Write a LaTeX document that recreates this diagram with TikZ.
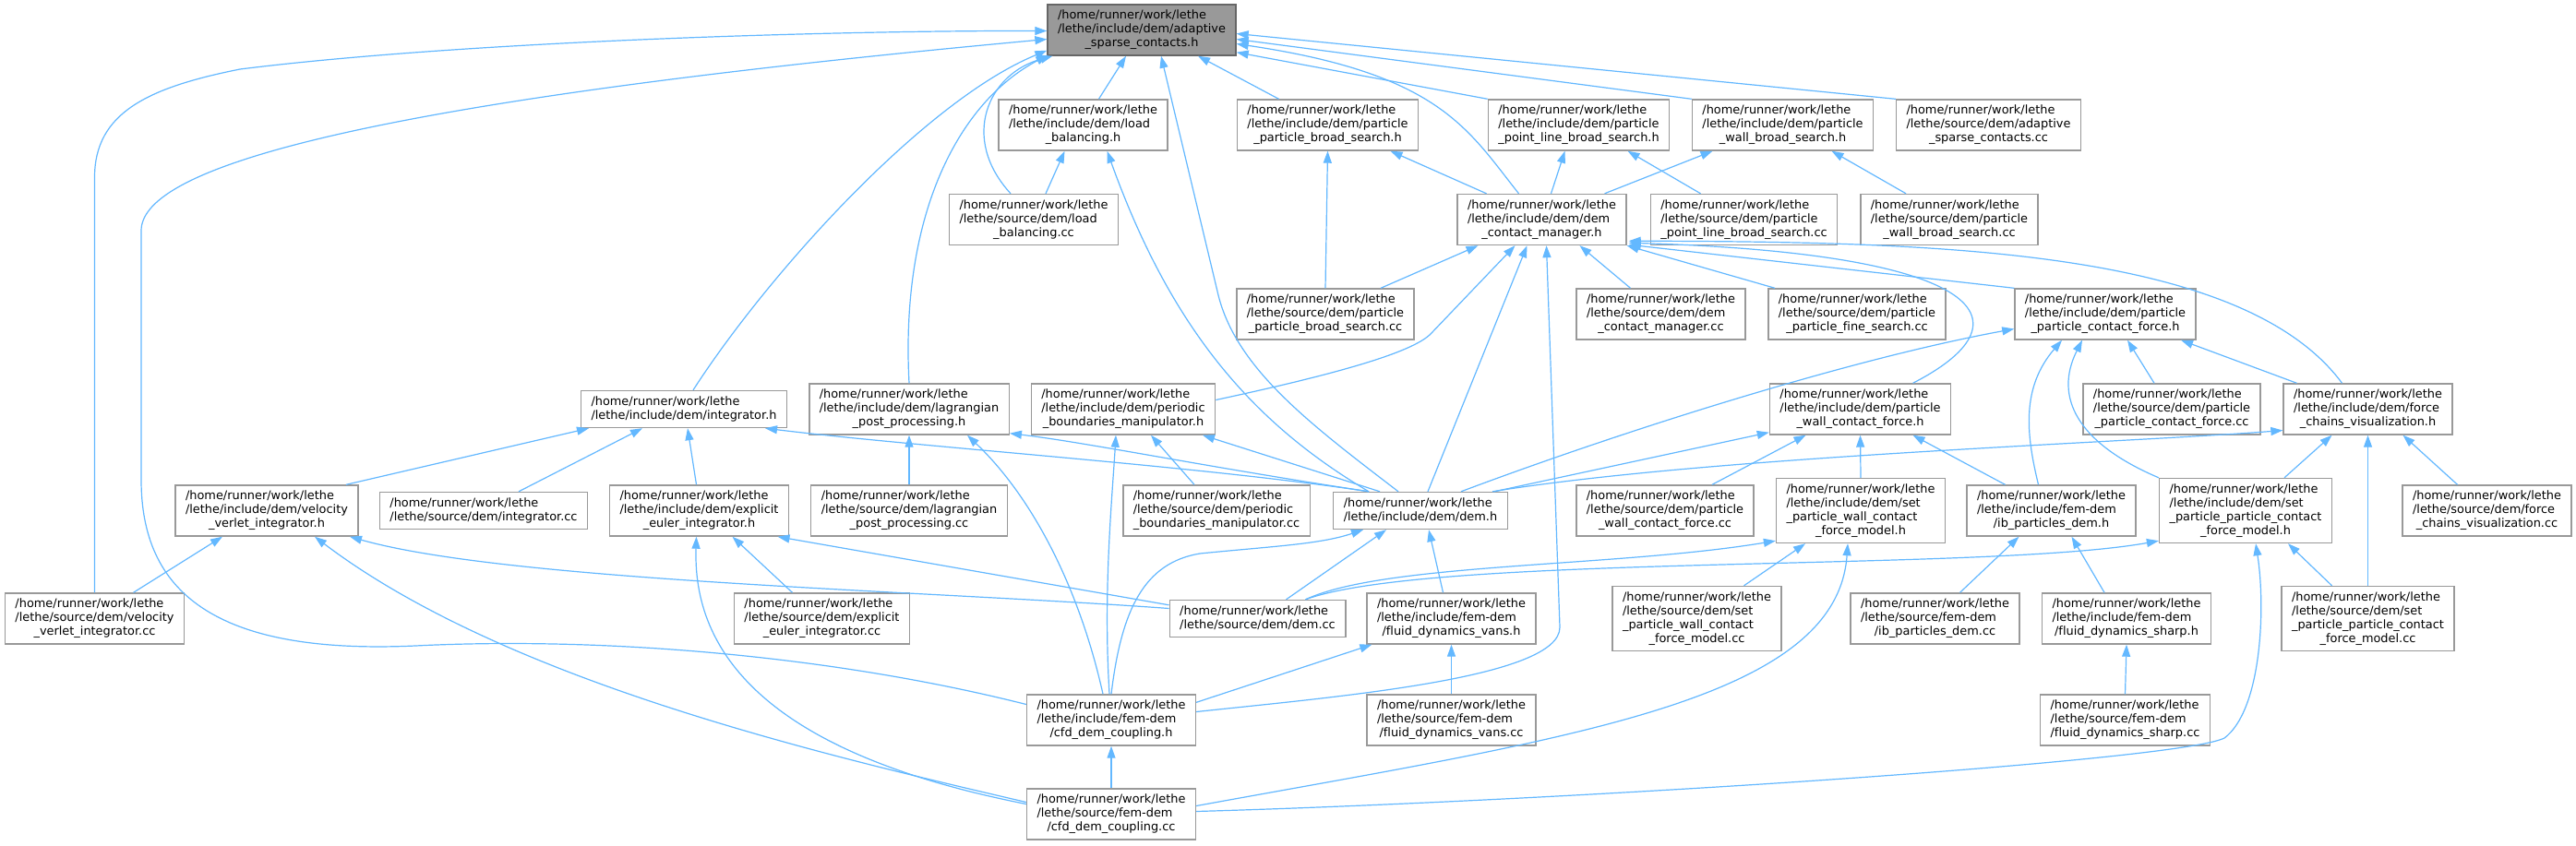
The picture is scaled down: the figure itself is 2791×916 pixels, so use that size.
\documentclass[tikz,border=0pt]{standalone}
\usepackage{fontspec}
\setmainfont[Ligatures=NoCommon]{DejaVu Sans}
\usetikzlibrary{arrows.meta}
\definecolor{edgeblue}{HTML}{63B8FF}
\definecolor{boxgray}{HTML}{999999}
\definecolor{rootgray}{HTML}{666666}
\newcommand{\fpath}[2]{\begin{tabular}{@{}l@{}}#1\\\multicolumn{1}{@{}c@{}}{#2}\end{tabular}}

\begin{document}
\begin{tikzpicture}[x=1pt,y=-1pt,
    hfile/.style={draw=boxgray,line width=1.4pt,fill=white,inner xsep=11pt,inner ysep=5pt,
        font=\fontsize{12.9}{15}\selectfont},
    root/.style={hfile,draw=rootgray,fill=boxgray},
    inc/.style={draw=edgeblue,line width=1.2pt,-{Triangle[length=13pt,width=9pt]}}]
    \fill[white] (0,0) rectangle (2791,916);
    \node[root] (A) at (1237,32.5) {\fpath{/home/runner/work/lethe\\/lethe/include/dem/adaptive}{\_sparse\_contacts.h}};
    \node[hfile] (LBh) at (1173.5,135.5) {\fpath{/home/runner/work/lethe\\/lethe/include/dem/load}{\_balancing.h}};
    \node[hfile] (PPBSh) at (1438.5,135.5) {\fpath{/home/runner/work/lethe\\/lethe/include/dem/particle}{\_particle\_broad\_search.h}};
    \node[hfile] (PPLBSh) at (1710.5,135.5) {\fpath{/home/runner/work/lethe\\/lethe/include/dem/particle}{\_point\_line\_broad\_search.h}};
    \node[hfile] (PWBSh) at (1931.5,135.5) {\fpath{/home/runner/work/lethe\\/lethe/include/dem/particle}{\_wall\_broad\_search.h}};
    \node[hfile] (ASCcc) at (2154.5,135.5) {\fpath{/home/runner/work/lethe\\/lethe/source/dem/adaptive}{\_sparse\_contacts.cc}};
    \node[hfile] (LBcc) at (1120,238) {\fpath{/home/runner/work/lethe\\/lethe/source/dem/load}{\_balancing.cc}};
    \node[hfile] (DCMh) at (1670.5,238) {\fpath{/home/runner/work/lethe\\/lethe/include/dem/dem}{\_contact\_manager.h}};
    \node[hfile] (PPLBScc) at (1889.5,238) {\fpath{/home/runner/work/lethe\\/lethe/source/dem/particle}{\_point\_line\_broad\_search.cc}};
    \node[hfile] (PWBScc) at (2112,238) {\fpath{/home/runner/work/lethe\\/lethe/source/dem/particle}{\_wall\_broad\_search.cc}};
    \node[hfile] (PPBScc) at (1436,340.5) {\fpath{/home/runner/work/lethe\\/lethe/source/dem/particle}{\_particle\_broad\_search.cc}};
    \node[hfile] (DCMcc) at (1799.5,340.5) {\fpath{/home/runner/work/lethe\\/lethe/source/dem/dem}{\_contact\_manager.cc}};
    \node[hfile] (PPFScc) at (2012,340.5) {\fpath{/home/runner/work/lethe\\/lethe/source/dem/particle}{\_particle\_fine\_search.cc}};
    \node[hfile] (PPCFh) at (2281,340.5) {\fpath{/home/runner/work/lethe\\/lethe/include/dem/particle}{\_particle\_contact\_force.h}};
    \node[hfile] (INTh) at (741,443.5) {\fpath{/home/runner/work/lethe}{/lethe/include/dem/integrator.h}};
    \node[hfile] (LPPh) at (985,443.5) {\fpath{/home/runner/work/lethe\\/lethe/include/dem/lagrangian}{\_post\_processing.h}};
    \node[hfile] (PBMh) at (1217,443.5) {\fpath{/home/runner/work/lethe\\/lethe/include/dem/periodic}{\_boundaries\_manipulator.h}};
    \node[hfile] (PWCFh) at (2015.5,443.5) {\fpath{/home/runner/work/lethe\\/lethe/include/dem/particle}{\_wall\_contact\_force.h}};
    \node[hfile] (PPCFcc) at (2353,443.5) {\fpath{/home/runner/work/lethe\\/lethe/source/dem/particle}{\_particle\_contact\_force.cc}};
    \node[hfile] (FCVh) at (2565.5,443.5) {\fpath{/home/runner/work/lethe\\/lethe/include/dem/force}{\_chains\_visualization.h}};
    \node[hfile] (VVIh) at (289,553.5) {\fpath{/home/runner/work/lethe\\/lethe/include/dem/velocity}{\_verlet\_integrator.h}};
    \node[hfile] (INTcc) at (524,553.5) {\fpath{/home/runner/work/lethe}{/lethe/source/dem/integrator.cc}};
    \node[hfile] (EEIh) at (757.5,553.5) {\fpath{/home/runner/work/lethe\\/lethe/include/dem/explicit}{\_euler\_integrator.h}};
    \node[hfile] (LPPcc) at (985,553.5) {\fpath{/home/runner/work/lethe\\/lethe/source/dem/lagrangian}{\_post\_processing.cc}};
    \node[hfile] (PBMcc) at (1318,553.5) {\fpath{/home/runner/work/lethe\\/lethe/source/dem/periodic}{\_boundaries\_manipulator.cc}};
    \node[hfile] (DEMh) at (1539,553.5) {\fpath{/home/runner/work/lethe}{/lethe/include/dem/dem.h}};
    \node[hfile] (PWCFcc) at (1804,553.5) {\fpath{/home/runner/work/lethe\\/lethe/source/dem/particle}{\_wall\_contact\_force.cc}};
    \node[hfile] (SPWCFMh) at (2016,553.5) {\fpath{/home/runner/work/lethe\\/lethe/include/dem/set\\\_particle\_wall\_contact}{\_force\_model.h}};
    \node[hfile] (IBPDh) at (2222.5,553.5) {\fpath{/home/runner/work/lethe\\/lethe/include/fem-dem}{/ib\_particles\_dem.h}};
    \node[hfile] (SPPCFMh) at (2433,553.5) {\fpath{/home/runner/work/lethe\\/lethe/include/dem/set\\\_particle\_particle\_contact}{\_force\_model.h}};
    \node[hfile] (FCVcc) at (2694.5,553.5) {\fpath{/home/runner/work/lethe\\/lethe/source/dem/force}{\_chains\_visualization.cc}};
    \node[hfile] (VVIcc) at (102.5,670.5) {\fpath{/home/runner/work/lethe\\/lethe/source/dem/velocity}{\_verlet\_integrator.cc}};
    \node[hfile] (EEIcc) at (890.5,670.5) {\fpath{/home/runner/work/lethe\\/lethe/source/dem/explicit}{\_euler\_integrator.cc}};
    \node[hfile] (DEMcc) at (1362.5,670.5) {\fpath{/home/runner/work/lethe}{/lethe/source/dem/dem.cc}};
    \node[hfile] (FDVh) at (1572.5,670.5) {\fpath{/home/runner/work/lethe\\/lethe/include/fem-dem}{/fluid\_dynamics\_vans.h}};
    \node[hfile] (SPWCFMcc) at (1838.5,670.5) {\fpath{/home/runner/work/lethe\\/lethe/source/dem/set\\\_particle\_wall\_contact}{\_force\_model.cc}};
    \node[hfile] (IBPDcc) at (2096.5,670.5) {\fpath{/home/runner/work/lethe\\/lethe/source/fem-dem}{/ib\_particles\_dem.cc}};
    \node[hfile] (FDSh) at (2304,670.5) {\fpath{/home/runner/work/lethe\\/lethe/include/fem-dem}{/fluid\_dynamics\_sharp.h}};
    \node[hfile] (SPPCFMcc) at (2565.5,670.5) {\fpath{/home/runner/work/lethe\\/lethe/source/dem/set\\\_particle\_particle\_contact}{\_force\_model.cc}};
    \node[hfile] (CDCh) at (1204,780.5) {\fpath{/home/runner/work/lethe\\/lethe/include/fem-dem}{/cfd\_dem\_coupling.h}};
    \node[hfile] (FDVcc) at (1572.5,780.5) {\fpath{/home/runner/work/lethe\\/lethe/source/fem-dem}{/fluid\_dynamics\_vans.cc}};
    \node[hfile] (FDScc) at (2302.5,780.5) {\fpath{/home/runner/work/lethe\\/lethe/source/fem-dem}{/fluid\_dynamics\_sharp.cc}};
    \node[hfile] (CDCcc) at (1204,882.5) {\fpath{/home/runner/work/lethe\\/lethe/source/fem-dem}{/cfd\_dem\_coupling.cc}};

    \draw[inc] (VVIcc.north) -- ++(0,-450) .. controls +(0,-70) and (160,95) .. (260,75) .. controls (500,45) and (900,33) .. ([yshift=-1pt]A.west);
    \draw[inc] ([yshift=17pt]CDCh.west) .. controls (900,710) and (650,690) .. (450,700) .. controls (230,710) and (153,640) .. (153,520) -- (153,250) .. controls (153,180) and (400,110) .. ([yshift=-10pt]A.west);
    \draw[inc] ([xshift=10pt]INTh.north) .. controls (830,300) and (1000,110) .. ([yshift=6pt]A.south west);
    \draw[inc] (LPPh.north) .. controls (975,230) and (1040,110) .. ([xshift=1pt,yshift=1pt]A.south west);
    \draw[inc] ([xshift=-25pt]LBcc.north) .. controls (1040,150) and (1070,80) .. ([xshift=6pt]A.south west);
    \draw[inc] ([xshift=17pt]LBh.north) -- ([xshift=-17pt]A.south);
    \draw[inc] ([xshift=-24pt]DEMh.north) .. controls (1420,460) and (1340,400) .. (1320,320) -- ([xshift=21pt]A.south);
    \draw[inc] ([xshift=-53pt]PPBSh.north) -- ([xshift=61pt]A.south);
    \draw[inc] ([xshift=-25pt]DCMh.north) .. controls (1590,140) and (1560,80) .. ([yshift=-15pt]A.east);
    \draw[inc] (PPLBSh.north west) -- ([yshift=4pt]A.south east);
    \draw[inc] (PWBSh.north west) -- ([yshift=-10pt]A.east);
    \draw[inc] (ASCcc.north west) -- ([yshift=-4pt]A.east);

    \draw[inc] ([xshift=13pt]LBcc.north) -- ([xshift=-20pt]LBh.south);
    \draw[inc] ([xshift=-56pt]DEMh.north) .. controls (1360,460) and (1270,360) .. ([xshift=26pt]LBh.south);
    \draw[inc] (PPBScc.north) -- (PPBSh.south);
    \draw[inc] ([xshift=-60pt]DCMh.north) -- ([xshift=68pt]PPBSh.south);
    \draw[inc] ([xshift=10pt]DCMh.north) -- ([xshift=-15pt]PPLBSh.south);
    \draw[inc] ([xshift=-47pt]PPLBScc.north) -- ([xshift=53pt]PPLBSh.south);
    \draw[inc] ([xshift=68pt]DCMh.north) -- ([xshift=-76pt]PWBSh.south);
    \draw[inc] ([xshift=-47pt]PWBScc.north) -- ([xshift=53pt]PWBSh.south);

    \draw[inc] ([xshift=60pt]PPBScc.north) -- ([xshift=-69pt]DCMh.south);
    \draw[inc] ([yshift=10pt]PBMh.east) .. controls (1450,405) and (1530,382) .. (1550,362) -- ([xshift=-29pt]DCMh.south);
    \draw[inc] ([xshift=8pt]DEMh.north) -- ([xshift=-16pt]DCMh.south);
    \draw[inc] ([yshift=9pt]CDCh.east) .. controls (1450,755) and (1690,735) .. (1690,680) -- ([xshift=5pt]DCMh.south);
    \draw[inc] ([xshift=-33pt]DCMcc.north) -- ([xshift=41pt]DCMh.south);
    \draw[inc] ([xshift=-89pt]PPFScc.north) -- (DCMh.south east);
    \draw[inc] (PPCFh.north west) -- ([xshift=2pt,yshift=1pt]DCMh.south east);
    \draw[inc] ([xshift=57pt]PWCFh.north) .. controls (2200,350) and (2160,275) .. ([xshift=2pt,yshift=3pt]DCMh.south east);
    \draw[inc] ([xshift=-28pt]FCVh.north) .. controls (2430,270) and (2100,262) .. ([xshift=2pt,yshift=5pt]DCMh.south east);

    \draw[inc] ([xshift=44pt]DEMh.north) .. controls (1750,470) and (2000,390) .. ([yshift=-16pt]PPCFh.west);
    \draw[inc] ([xshift=-14pt]IBPDh.north) .. controls (2195,470) and (2190,420) .. ([xshift=-47pt]PPCFh.south);
    \draw[inc] (SPPCFMh.north west) .. controls (2250,480) and (2225,430) .. ([xshift=-25pt]PPCFh.south);
    \draw[inc] ([xshift=-19pt]PPCFcc.north) -- ([xshift=24pt]PPCFh.south);
    \draw[inc] ([xshift=-77pt]FCVh.north) -- ([xshift=82pt]PPCFh.south);

    \draw[inc] ([xshift=78pt]DEMh.north) .. controls (1850,495) and (2300,480) .. ([yshift=-23pt]FCVh.west);
    \draw[inc] ([xshift=42pt]SPPCFMh.north) -- ([xshift=-39pt]FCVh.south);
    \draw[inc] (SPPCFMcc.north) -- (FCVh.south);
    \draw[inc] ([xshift=-32pt]FCVcc.north) -- ([xshift=38pt]FCVh.south);

    \draw[inc] ([xshift=80pt]DEMh.north) -- ([yshift=3pt]PWCFh.south west);
    \draw[inc] ([xshift=51pt]PWCFcc.north) -- ([xshift=-59pt]PWCFh.south);
    \draw[inc] (SPWCFMh.north) -- (PWCFh.south);
    \draw[inc] ([xshift=-50pt]IBPDh.north) -- ([xshift=57pt]PWCFh.south);

    \draw[inc] ([xshift=52pt]DEMcc.north) .. controls (1500,610) and (1750,615) .. ([yshift=3pt]SPWCFMh.south west);
    \draw[inc] ([xshift=51pt]SPWCFMcc.north) -- ([xshift=-60pt]SPWCFMh.south);
    \draw[inc] ([yshift=9pt]CDCcc.east) .. controls (1700,800) and (1990,760) .. ([xshift=-14pt]SPWCFMh.south);

    \draw[inc] ([xshift=52pt]DEMcc.north) .. controls (1550,600) and (2150,620) .. ([yshift=3pt]SPPCFMh.south west);
    \draw[inc] ([xshift=-39pt]SPPCFMcc.north) -- ([xshift=46pt]SPPCFMh.south);
    \draw[inc] ([yshift=3pt]CDCcc.east) .. controls (1700,868) and (2360,825) .. (2410,800) .. controls (2450,770) and (2455,660) .. ([xshift=11pt]SPPCFMh.south);

    \draw[inc] ([xshift=27pt]IBPDcc.north) -- ([xshift=-35pt]IBPDh.south);
    \draw[inc] ([xshift=-24pt]FDSh.north) -- ([xshift=22pt]IBPDh.south);
    \draw[inc] (FDScc.north) -- (FDSh.south);

    \draw[inc] (CDCh.north) .. controls (1215,660) and (1240,610) .. (1300,600) .. controls (1380,592) and (1430,590) .. ([xshift=-62pt]DEMh.south);
    \draw[inc] ([xshift=31pt]DEMcc.north) -- ([xshift=-37pt]DEMh.south);
    \draw[inc] ([xshift=-9pt]FDVh.north) -- ([xshift=9pt]DEMh.south);
    \draw[inc] ([xshift=-56pt]DEMh.north) .. controls (1300,505) and (1000,485) .. ([xshift=88pt]INTh.south);
    \draw[inc] ([xshift=-56pt]DEMh.north) .. controls (1300,505) and (1180,480) .. ([yshift=2pt]LPPh.south east);
    \draw[inc] ([xshift=-44pt]DEMh.north) -- ([xshift=86pt]PBMh.south);

    \draw[inc] ([xshift=-9pt]CDCh.north) .. controls (1170,640) and (1120,540) .. ([xshift=63pt]LPPh.south);
    \draw[inc] ([xshift=-2pt]CDCh.north) .. controls (1195,640) and (1205,540) .. ([xshift=-8pt]PBMh.south);
    \draw[inc] ([yshift=-9pt]CDCh.north east) -- ([xshift=6pt]FDVh.south west);
    \draw[inc] (CDCcc.north) -- (CDCh.south);
    \draw[inc] (FDVcc.north) -- (FDVh.south);

    \draw[inc] ([xshift=86pt]VVIh.north) -- ([xshift=-103pt]INTh.south);
    \draw[inc] ([xshift=38pt]INTcc.north) -- ([xshift=-45pt]INTh.south);
    \draw[inc] ([xshift=-3pt]EEIh.north) -- ([xshift=4pt]INTh.south);
    \draw[inc] ([xshift=42pt]VVIcc.north) -- ([xshift=-48pt]VVIh.south);
    \draw[inc] ([yshift=11pt]DEMcc.west) .. controls (1000,640) and (550,630) .. ([xshift=90pt]VVIh.south);
    \draw[inc] ([yshift=13pt]CDCcc.west) .. controls (900,820) and (550,740) .. ([xshift=52pt]VVIh.south);
    \draw[inc] ([yshift=11pt]CDCcc.west) .. controls (850,820) and (750,720) .. ([xshift=-3pt]EEIh.south);
    \draw[inc] ([xshift=-32pt]EEIcc.north) -- ([xshift=36pt]EEIh.south);
    \draw[inc] ([yshift=-6pt]DEMcc.north west) -- ([xshift=85pt]EEIh.south);
    \draw[inc] (LPPcc.north) -- (LPPh.south);
    \draw[inc] ([xshift=-24pt]PBMcc.north) -- ([xshift=30pt]PBMh.south);
\end{tikzpicture}
\end{document}
